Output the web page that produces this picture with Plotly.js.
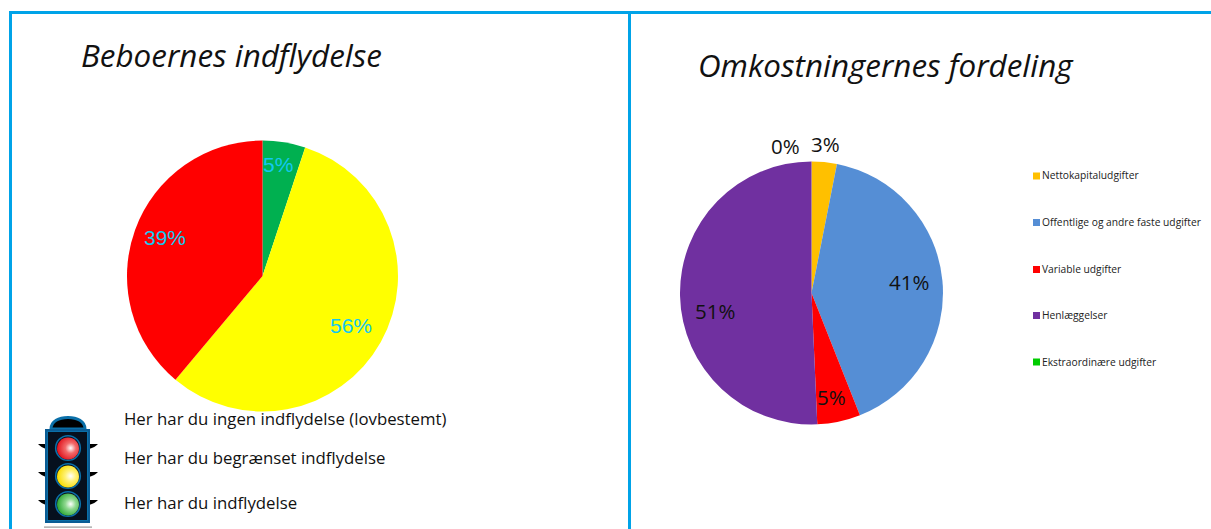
<!DOCTYPE html>
<html>
<head>
<meta charset="utf-8">
<script src="https://cdn.plot.ly/plotly-3.0.1.min.js"></script>
<style>html,body{margin:0;padding:0;background:#fff;overflow:hidden}#c{width:1211px;height:529px}</style>
</head>
<body>
<div id="c"></div>
<script>
const W = 1211, H = 529;
const influenceLabels = ['Her har du indflydelse', 'Her har du begrænset indflydelse', 'Her har du ingen indflydelse (lovbestemt)'];
const influenceValues = [5.1, 56, 38.9];
const influenceColors = ['#00B050', '#FFFF00', '#FF0000'];
const influenceText = ['5%', '56%', '39%'];
const influenceTextPos = [[278, 164.5], [351, 325.5], [165, 237.5]];
const legendRows = [['Her har du ingen indflydelse (lovbestemt)', 418], ['Her har du begrænset indflydelse', 457], ['Her har du indflydelse', 502]];

const costLabels = ['Nettokapitaludgifter', 'Offentlige og andre faste udgifter', 'Variable udgifter', 'Henlæggelser', 'Ekstraordinære udgifter'];
const costValues = [3.1, 40.9, 5.3, 50.7, 0];
const costColors = ['#FFC000', '#558ED5', '#FF0000', '#7030A0', '#00B050'];
const costLegendColors = ['#FFC000', '#558ED5', '#FF0000', '#7030A0', '#00CC00'];
const costText = ['3%', '41%', '5%', '51%', '0%'];
const costTextPos = [[825, 144], [909, 282], [831, 397], [715, 311], [786, 146]];
const costLegendY = [176, 222.5, 269.5, 315.5, 362];
const costLegendTextY = [175.5, 222, 269, 315, 361.5];

const px = x => x / W, py = y => 1 - y / H;
function pieDomain(cx, cy, r) { return { x: [px(cx - r), px(cx + r)], y: [py(cy + r), py(cy - r)] }; }
function note(text, x, y, size, color, family, extra) {
  return Object.assign({ text, x: px(x), y: py(y), xref: 'paper', yref: 'paper', showarrow: false, borderpad: 0,
    xanchor: 'center', yanchor: 'middle', font: { size, color, family } }, extra || {});
}
const pieBase = { type: 'pie', sort: false, direction: 'clockwise', rotation: 0, textinfo: 'none', hoverinfo: 'label+percent', showlegend: false };
const data = [
  Object.assign({}, pieBase, { labels: influenceLabels, values: influenceValues, marker: { colors: influenceColors, line: { width: 0 } }, domain: pieDomain(262.5, 276, 135.5) }),
  Object.assign({}, pieBase, { labels: costLabels, values: costValues, marker: { colors: costColors, line: { width: 0 } }, domain: pieDomain(811.5, 293, 131.5) })
];
const ui = "'Open Sans', 'Noto Sans', sans-serif";
const annotations = [
  note('<i>Beboernes indflydelse</i>', 80, 54.5, 31.4, '#111', ui, { xanchor: 'left' }),
  note('<i>Omkostningernes fordeling</i>', 697, 64, 31.4, '#111', ui, { xanchor: 'left' })
];
influenceText.forEach((t, i) => annotations.push(note(t, influenceTextPos[i][0], influenceTextPos[i][1], 21, '#12C8F0', "'Liberation Sans', Arial, sans-serif")));
costText.forEach((t, i) => annotations.push(note(t, costTextPos[i][0], costTextPos[i][1], 20.5, '#111', ui)));
legendRows.forEach(r => annotations.push(note(r[0], 122.5, r[1], 16.8, '#111', ui, { xanchor: 'left' })));
costLabels.forEach((t, i) => annotations.push(note(t, 1040.5, costLegendTextY[i], 10.25, '#222', ui, { xanchor: 'left' })));

const line = { width: 0 };
const shapes = [
  { type: 'rect', xref: 'paper', yref: 'paper', x0: px(9), x1: px(12), y0: py(529), y1: py(11), fillcolor: '#00A3E8', line },
  { type: 'rect', xref: 'paper', yref: 'paper', x0: px(9), x1: px(1211), y0: py(14), y1: py(11), fillcolor: '#00A3E8', line },
  { type: 'rect', xref: 'paper', yref: 'paper', x0: px(628), x1: px(631), y0: py(529), y1: py(11), fillcolor: '#00A3E8', line }
];
costLegendColors.forEach((c, i) => shapes.push({ type: 'rect', xref: 'paper', yref: 'paper', x0: px(1033), x1: px(1040),
  y0: py(costLegendY[i] + 3.5), y1: py(costLegendY[i] - 3.5), fillcolor: c, line }));

function lamp(id, cy, c, hi) {
  return `<radialGradient id="${id}" cx="0.62" cy="0.48" r="0.6"><stop offset="0" stop-color="#fff"/><stop offset="0.4" stop-color="${hi}"/><stop offset="1" stop-color="${c}"/></radialGradient>
  <circle cx="31" cy="${cy}" r="12.3" fill="#0a0f1e" stroke="#0a6fa8" stroke-width="1.6"/>
  <circle cx="31" cy="${cy + 0.5}" r="11" fill="url(#${id})"/>`;
}
const ears = [29, 57, 85].map(y => `<path d="M1 ${y}H9V${y + 5}C6 ${y + 4} 3 ${y + 2} 1 ${y}z" fill="#000"/><path d="M61 ${y}H52V${y + 5}C56 ${y + 4} 59 ${y + 2} 61 ${y}z" fill="#000"/>`).join('');
const svg = `<svg xmlns="http://www.w3.org/2000/svg" width="62" height="113" viewBox="0 0 62 113">
<path d="M14 14C14 6 22 2.5 31 2.5S48 6 48 14z" fill="#000" stroke="#0a6fa8" stroke-width="3"/>
${ears}
<rect x="8" y="14" width="45" height="94" fill="#0a5c94"/>
<rect x="10.5" y="16.5" width="40" height="89" fill="#06101e" stroke="#0a6fa8" stroke-width="1"/>
${lamp('r', 33, '#e0141e', '#f26a6a')}
${lamp('y', 61, '#f8dc00', '#fff27a')}
${lamp('g', 89, '#2ea836', '#8fd890')}
<rect x="7" y="111.5" width="48" height="1.2" fill="#999"/>
</svg>`;
const images = [{ source: 'data:image/svg+xml;charset=utf-8,' + encodeURIComponent(svg), xref: 'paper', yref: 'paper',
  x: px(37), y: py(415), sizex: 62 / W, sizey: 113 / H, sizing: 'stretch', xanchor: 'left', yanchor: 'top', layer: 'above' }];

Plotly.newPlot('c', data, {
  width: W, height: H, margin: { l: 0, r: 0, t: 0, b: 0 }, paper_bgcolor: '#fff', showlegend: false,
  annotations, shapes, images
}, { displayModeBar: false, staticPlot: true });
</script>
</body>
</html>
